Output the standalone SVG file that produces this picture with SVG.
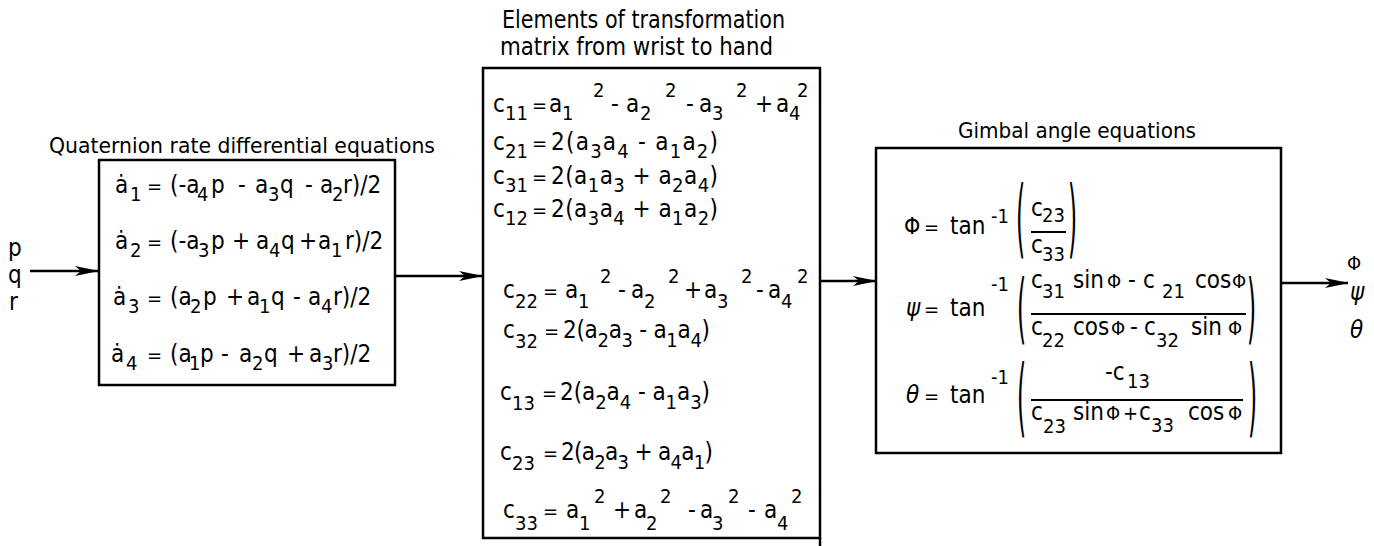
<svg xmlns="http://www.w3.org/2000/svg" width="1374" height="546" viewBox="0 0 1374 546">
<style>
text{font-family:"DejaVu Sans Condensed","DejaVu Sans",sans-serif;fill:#000}
.t{font-size:21px}
.t2{font-size:24px}
.e{font-size:24px}
.s{font-size:20px}
.q{font-size:20px}
.ph{font-size:20px}
.p{font-size:26px}
.box{fill:none;stroke:#000;stroke-width:2.5}
.ln{stroke:#000;stroke-width:2.5;fill:none}
.fr{stroke:#000;stroke-width:2}
</style>
<defs>
<marker id="ah" markerWidth="24" markerHeight="12" refX="23" refY="6" orient="auto" markerUnits="userSpaceOnUse">
<path d="M0,1 L24,6 L0,11 L6,6 Z" fill="#000"/>
</marker>
</defs>

<g id="connectors">
<line class="ln" x1="30" y1="271" x2="98" y2="271" marker-end="url(#ah)"/>
<line class="ln" x1="395" y1="276" x2="482" y2="276" marker-end="url(#ah)"/>
<line class="ln" x1="820" y1="281" x2="876" y2="281" marker-end="url(#ah)"/>
<line class="ln" x1="1281" y1="283" x2="1348" y2="283" marker-end="url(#ah)"/>
</g>

<g id="inputs">
<text class="e" x="8" y="256">p</text>
<text class="e" x="8" y="283">q</text>
<text class="e" x="9" y="310">r</text>
</g>

<g id="quaternion">
<text class="t" x="49" y="153" textLength="386" lengthAdjust="spacingAndGlyphs">Quaternion rate differential equations</text>
<rect class="box" x="99" y="160" width="296" height="225"/>
<text class="e"><tspan x="115" y="193">ȧ</tspan><tspan class="s" x="130" y="201">1</tspan><tspan class="q" x="147" y="193">=</tspan><tspan x="170" y="193">(-a</tspan><tspan class="s" x="197" y="201">4</tspan><tspan x="211" y="193">p</tspan><tspan x="238" y="193">-</tspan><tspan x="255" y="193">a</tspan><tspan class="s" x="268" y="201">3</tspan><tspan x="280" y="193">q</tspan><tspan x="305" y="193">-</tspan><tspan x="320" y="193">a</tspan><tspan class="s" x="332" y="201">2</tspan><tspan x="343" y="193">r)/2</tspan></text>
<text class="e"><tspan x="115" y="249">ȧ</tspan><tspan class="s" x="130" y="257">2</tspan><tspan class="q" x="147" y="249">=</tspan><tspan x="170" y="249">(-a</tspan><tspan class="s" x="198" y="257">3</tspan><tspan x="211" y="249">p</tspan><tspan x="232" y="249">+</tspan><tspan x="256" y="249">a</tspan><tspan class="s" x="269" y="257">4</tspan><tspan x="281" y="249">q</tspan><tspan x="299" y="249">+</tspan><tspan x="318" y="249">a</tspan><tspan class="s" x="331" y="257">1</tspan><tspan x="345" y="249">r)/2</tspan></text>
<text class="e"><tspan x="113" y="305">ȧ</tspan><tspan class="s" x="128" y="313">3</tspan><tspan class="q" x="147" y="305">=</tspan><tspan x="170" y="305">(a</tspan><tspan class="s" x="190" y="313">2</tspan><tspan x="203" y="305">p</tspan><tspan x="226" y="305">+</tspan><tspan x="247" y="305">a</tspan><tspan class="s" x="259" y="313">1</tspan><tspan x="271" y="305">q</tspan><tspan x="293" y="305">-</tspan><tspan x="308" y="305">a</tspan><tspan class="s" x="321" y="313">4</tspan><tspan x="333" y="305">r)/2</tspan></text>
<text class="e"><tspan x="111" y="362">ȧ</tspan><tspan class="s" x="126" y="370">4</tspan><tspan class="q" x="147" y="362">=</tspan><tspan x="170" y="362">(a</tspan><tspan class="s" x="189" y="370">1</tspan><tspan x="200" y="362">p</tspan><tspan x="221" y="362">-</tspan><tspan x="239" y="362">a</tspan><tspan class="s" x="252" y="370">2</tspan><tspan x="264" y="362">q</tspan><tspan x="287" y="362">+</tspan><tspan x="309" y="362">a</tspan><tspan class="s" x="322" y="370">3</tspan><tspan x="333" y="362">r)/2</tspan></text>
</g>

<g id="transformation">
<text class="t2" x="502" y="28" textLength="283" lengthAdjust="spacingAndGlyphs">Elements of transformation</text>
<text class="t2" x="500" y="55" textLength="273" lengthAdjust="spacingAndGlyphs">matrix from wrist to hand</text>
<rect class="box" x="483" y="68" width="337" height="470"/>
<line class="ln" x1="820" y1="538" x2="820" y2="546"/>
<text class="e"><tspan x="493" y="112">c</tspan><tspan class="s" x="505" y="120">11</tspan><tspan class="q" x="532" y="112">=</tspan><tspan x="549" y="112">a</tspan><tspan class="s" x="562" y="120">1</tspan><tspan class="s" x="593" y="97">2</tspan><tspan x="611" y="112">-</tspan><tspan x="626" y="112">a</tspan><tspan class="s" x="640" y="120">2</tspan><tspan class="s" x="665" y="97">2</tspan><tspan x="686" y="112">-</tspan><tspan x="699" y="112">a</tspan><tspan class="s" x="712" y="120">3</tspan><tspan class="s" x="736" y="97">2</tspan><tspan x="755" y="112">+</tspan><tspan x="776" y="112">a</tspan><tspan class="s" x="789" y="120">4</tspan><tspan class="s" x="797" y="97">2</tspan></text>

<text class="e"><tspan x="493" y="150">c</tspan><tspan class="s" x="505" y="158">21</tspan><tspan class="q" x="532" y="150">=</tspan></text>
<text class="e" x="551" y="150" textLength="167" lengthAdjust="spacing">2(a<tspan class="s" dy="8">3</tspan><tspan dy="-8">a</tspan><tspan class="s" dy="8">4</tspan><tspan dy="-8"> - a</tspan><tspan class="s" dy="8">1</tspan><tspan dy="-8">a</tspan><tspan class="s" dy="8">2</tspan><tspan dy="-8">)</tspan></text>

<text class="e"><tspan x="493" y="184">c</tspan><tspan class="s" x="505" y="192">31</tspan><tspan class="q" x="532" y="184">=</tspan></text>
<text class="e" x="551" y="184" textLength="167" lengthAdjust="spacing">2(a<tspan class="s" dy="8">1</tspan><tspan dy="-8">a</tspan><tspan class="s" dy="8">3</tspan><tspan dy="-8"> + a</tspan><tspan class="s" dy="8">2</tspan><tspan dy="-8">a</tspan><tspan class="s" dy="8">4</tspan><tspan dy="-8">)</tspan></text>

<text class="e"><tspan x="493" y="217">c</tspan><tspan class="s" x="505" y="225">12</tspan><tspan class="q" x="532" y="217">=</tspan></text>
<text class="e" x="551" y="217" textLength="167" lengthAdjust="spacing">2(a<tspan class="s" dy="8">3</tspan><tspan dy="-8">a</tspan><tspan class="s" dy="8">4</tspan><tspan dy="-8"> + a</tspan><tspan class="s" dy="8">1</tspan><tspan dy="-8">a</tspan><tspan class="s" dy="8">2</tspan><tspan dy="-8">)</tspan></text>

<text class="e"><tspan x="503" y="298">c</tspan><tspan class="s" x="515" y="308">22</tspan><tspan class="q" x="543" y="298">=</tspan><tspan x="565" y="298">a</tspan><tspan class="s" x="578" y="308">1</tspan><tspan class="s" x="600" y="283">2</tspan><tspan x="618" y="298">-</tspan><tspan x="631" y="298">a</tspan><tspan class="s" x="644" y="308">2</tspan><tspan class="s" x="668" y="283">2</tspan><tspan x="684" y="298">+</tspan><tspan x="704" y="298">a</tspan><tspan class="s" x="717" y="308">3</tspan><tspan class="s" x="741" y="283">2</tspan><tspan x="756" y="298">-</tspan><tspan x="768" y="298">a</tspan><tspan class="s" x="781" y="308">4</tspan><tspan class="s" x="797" y="283">2</tspan></text>

<text class="e"><tspan x="503" y="338">c</tspan><tspan class="s" x="515" y="348">32</tspan><tspan class="q" x="544" y="338">=</tspan></text>
<text class="e" x="563" y="338" textLength="147" lengthAdjust="spacing">2(a<tspan class="s" dy="9">2</tspan><tspan dy="-9">a</tspan><tspan class="s" dy="9">3</tspan><tspan dy="-9"> - a</tspan><tspan class="s" dy="9">1</tspan><tspan dy="-9">a</tspan><tspan class="s" dy="9">4</tspan><tspan dy="-9">)</tspan></text>

<text class="e"><tspan x="500" y="400">c</tspan><tspan class="s" x="512" y="410">13</tspan><tspan class="q" x="542" y="400">=</tspan></text>
<text class="e" x="560" y="400" textLength="150" lengthAdjust="spacing">2(a<tspan class="s" dy="9">2</tspan><tspan dy="-9">a</tspan><tspan class="s" dy="9">4</tspan><tspan dy="-9"> - a</tspan><tspan class="s" dy="9">1</tspan><tspan dy="-9">a</tspan><tspan class="s" dy="9">3</tspan><tspan dy="-9">)</tspan></text>

<text class="e"><tspan x="500" y="460">c</tspan><tspan class="s" x="512" y="470">23</tspan><tspan class="q" x="543" y="460">=</tspan></text>
<text class="e" x="561" y="460" textLength="152" lengthAdjust="spacing">2(a<tspan class="s" dy="9">2</tspan><tspan dy="-9">a</tspan><tspan class="s" dy="9">3</tspan><tspan dy="-9"> + a</tspan><tspan class="s" dy="9">4</tspan><tspan dy="-9">a</tspan><tspan class="s" dy="9">1</tspan><tspan dy="-9">)</tspan></text>

<text class="e"><tspan x="503" y="518">c</tspan><tspan class="s" x="515" y="530">33</tspan><tspan class="q" x="543" y="518">=</tspan><tspan x="566" y="518">a</tspan><tspan class="s" x="579" y="530">1</tspan><tspan class="s" x="594" y="503">2</tspan><tspan x="613" y="518">+</tspan><tspan x="634" y="518">a</tspan><tspan class="s" x="646" y="530">2</tspan><tspan class="s" x="660" y="503">2</tspan><tspan x="688" y="518">-</tspan><tspan x="700" y="518">a</tspan><tspan class="s" x="712" y="530">3</tspan><tspan class="s" x="728" y="503">2</tspan><tspan x="748" y="518">-</tspan><tspan x="764" y="518">a</tspan><tspan class="s" x="777" y="530">4</tspan><tspan class="s" x="791" y="503">2</tspan></text>
</g>

<g id="gimbal">
<text class="t" x="958" y="138" textLength="238" lengthAdjust="spacingAndGlyphs">Gimbal angle equations</text>
<rect class="box" x="876" y="148" width="405" height="305"/>

<text class="e"><tspan font-size="23" x="904" y="234">Φ</tspan><tspan class="q" x="924" y="234">=</tspan><tspan x="950" y="234">tan</tspan></text>
<text class="s" x="991" y="223">-1</text>
<text class="p" transform="translate(1016,246.6) scale(1,3.32)">(</text>
<text class="p" transform="translate(1068,246.6) scale(1,3.32)">)</text>
<text class="e"><tspan x="1031" y="216">c</tspan><tspan class="s" x="1042" y="222">23</tspan></text>
<line class="fr" x1="1031" y1="232" x2="1066" y2="232"/>
<text class="e"><tspan x="1031" y="253">c</tspan><tspan class="s" x="1042" y="261">33</tspan></text>

<text class="e"><tspan x="906" y="316" font-style="italic">ψ</tspan><tspan class="q" x="924" y="316">=</tspan><tspan x="950" y="316">tan</tspan></text>
<text class="s" x="991" y="291">-1</text>
<text class="p" transform="translate(1017,333.8) scale(1,2.97)">(</text>
<text class="p" transform="translate(1247,333.8) scale(1,2.97)">)</text>
<text class="e"><tspan x="1031" y="288">c</tspan><tspan class="s" x="1042" y="298">31</tspan><tspan x="1073" y="288">sin</tspan><tspan class="ph" x="1107" y="288">Φ</tspan><tspan x="1128" y="288">-</tspan><tspan x="1143" y="288">c</tspan><tspan class="s" x="1162" y="298">21</tspan><tspan x="1195" y="288">cos</tspan><tspan class="ph" x="1232" y="288">Φ</tspan></text>
<line class="fr" x1="1031" y1="314" x2="1246" y2="314"/>
<text class="e"><tspan x="1031" y="335">c</tspan><tspan class="s" x="1042" y="347">22</tspan><tspan x="1073" y="335">cos</tspan><tspan class="ph" x="1111" y="335">Φ</tspan><tspan x="1130" y="335">-</tspan><tspan x="1144" y="335">c</tspan><tspan class="s" x="1156" y="347">32</tspan><tspan x="1191" y="335">sin</tspan><tspan class="ph" x="1228" y="335">Φ</tspan></text>

<text class="e"><tspan x="906" y="403" font-style="italic">θ</tspan><tspan class="q" x="924" y="403">=</tspan><tspan x="950" y="403">tan</tspan></text>
<text class="s" x="991" y="384">-1</text>
<text class="p" transform="translate(1017,425.7) scale(1,3.28)">(</text>
<text class="p" transform="translate(1248,425.7) scale(1,3.28)">)</text>
<text class="e"><tspan x="1105" y="380">-c</tspan><tspan class="s" x="1127" y="388">13</tspan></text>
<line class="fr" x1="1031" y1="400" x2="1243" y2="400"/>
<text class="e"><tspan x="1031" y="420">c</tspan><tspan class="s" x="1043" y="433">23</tspan><tspan x="1073" y="420">sin</tspan><tspan class="ph" x="1106" y="420">Φ</tspan><tspan class="q" x="1123" y="420">+</tspan><tspan x="1139" y="420">c</tspan><tspan class="s" x="1151" y="432">33</tspan><tspan x="1188" y="420">cos</tspan><tspan class="ph" x="1228" y="420">Φ</tspan></text>
</g>

<g id="outputs">
<text class="ph" x="1347" y="270">Φ</text>
<text class="e" x="1350" y="300" font-style="italic">ψ</text>
<text class="e" x="1350" y="338" font-style="italic">θ</text>
</g>
</svg>
